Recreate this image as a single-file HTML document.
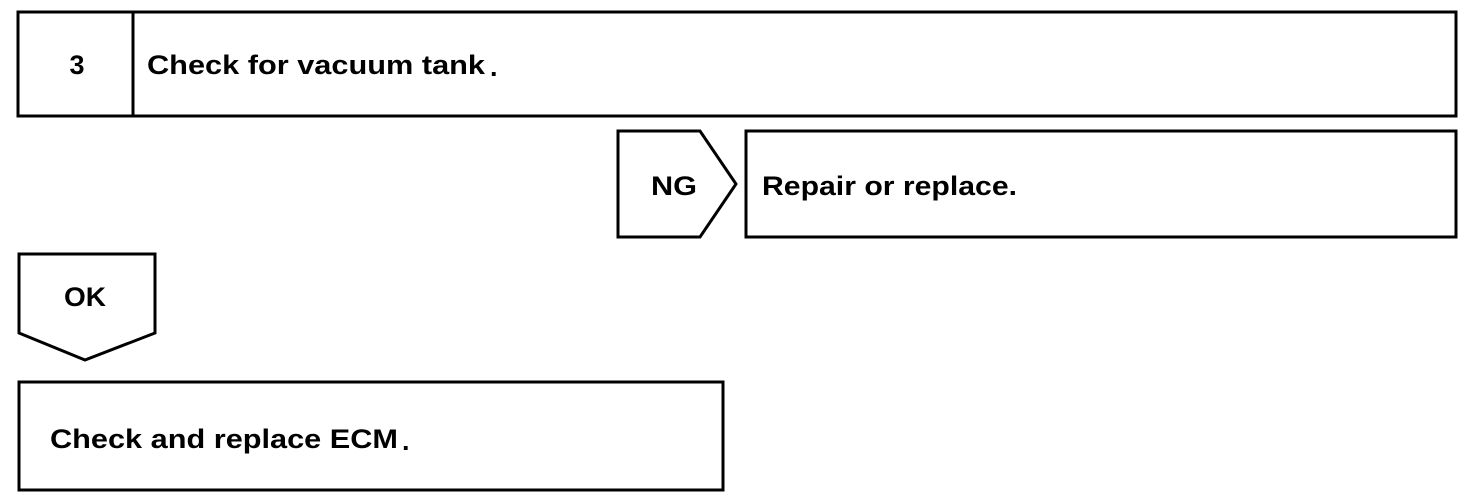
<!DOCTYPE html>
<html><head><style>
body{margin:0;background:#fff;width:1472px;height:498px;overflow:hidden}
svg text{font-family:"Liberation Sans",Arial,sans-serif;font-weight:bold;fill:#000}
</style></head><body>
<svg width="1472" height="498" viewBox="0 0 1472 498">
<g fill="none" stroke="#000" stroke-width="3">
<rect x="18" y="12" width="1438" height="104"/>
<line x1="133" y1="12" x2="133" y2="116"/>
<polygon points="618,131 700,131 736,184 700,237 618,237"/>
<rect x="746" y="131" width="710" height="106"/>
<polygon points="19,254 155,254 155,333 85,360 19,333"/>
<rect x="19" y="382" width="704" height="108"/>
</g>
<g font-size="27">
<text x="77" y="74" text-anchor="middle">3</text>
<text x="147" y="74" textLength="338" lengthAdjust="spacingAndGlyphs">Check for vacuum tank</text>
<text x="490" y="76">.</text>
<text x="651" y="195" textLength="46" lengthAdjust="spacingAndGlyphs">NG</text>
<text x="762" y="195" textLength="255" lengthAdjust="spacingAndGlyphs">Repair or replace.</text>
<text x="64" y="306" textLength="42" lengthAdjust="spacingAndGlyphs">OK</text>
<text x="50" y="448" textLength="348" lengthAdjust="spacingAndGlyphs">Check and replace ECM</text>
<text x="402" y="450">.</text>
</g>
</svg>
</body></html>
